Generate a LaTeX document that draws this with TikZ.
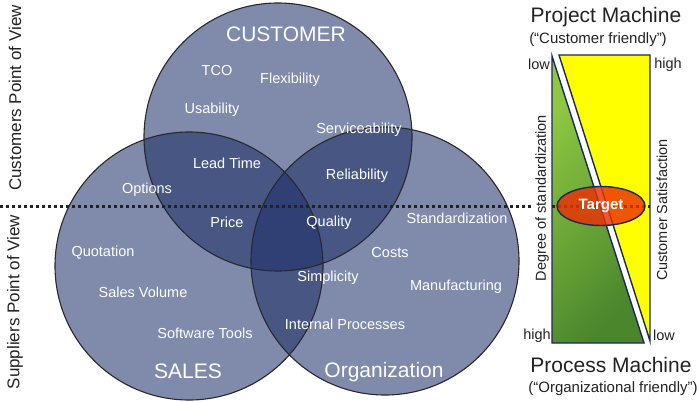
\documentclass[tikz,border=0pt]{standalone}
\usepackage{fontspec}
\setmainfont{Liberation Sans}
\usetikzlibrary{positioning,shapes.geometric}
\definecolor{vennblue}{RGB}{28,46,103}
\definecolor{ringgray}{RGB}{40,40,44}
\definecolor{boxnavy}{RGB}{28,40,92}
\definecolor{lightgreen}{RGB}{142,200,66}
\definecolor{darkgreen}{RGB}{74,134,44}
\definecolor{signyellow}{RGB}{255,255,0}
\definecolor{targetred}{RGB}{236,48,4}
\definecolor{textgray}{RGB}{34,34,34}
\tikzset{
	venn/.style={circle, minimum size=268pt, inner sep=0pt, fill=vennblue, fill opacity=0.56},
	ring/.style={circle, minimum size=268pt, inner sep=0pt, draw=ringgray, line width=1.1pt},
	item/.style={text=white, inner sep=0pt, font=\fontsize{14.5}{17}\selectfont},
	setname/.style={text=white, inner sep=0pt, font=\fontsize{21}{24}\selectfont},
	view/.style={rotate=90, inner sep=0pt, text=textgray, font=\fontsize{17}{20}\selectfont},
	axislabel/.style={rotate=90, inner sep=1pt, text=textgray, font=\fontsize{14.5}{17}\selectfont},
	endlabel/.style={inner sep=0pt, text=textgray, font=\fontsize{14.5}{17}\selectfont},
	title/.style={inner sep=0pt, text=textgray, font=\fontsize{21}{24}\selectfont},
	subtitle/.style={inner sep=0pt, text=textgray, font=\fontsize{15}{18}\selectfont},
	dotline/.style={textgray, line width=3pt, dash pattern=on 3pt off 3pt}
}
\begin{document}
\begin{tikzpicture}[x=1pt,y=-1pt]
	\useasboundingbox (0,0) rectangle (700,401);
	
	% venn circles
	\node[venn] (customer) at (278,137) {};
	\node[venn] (sales) at (189,266) {};
	\node[venn] (organization) at (385,261) {};
	\foreach \c in {customer,sales,organization}
		\node[ring] (\c-ring) at (\c) {};
	
	% set names
	\node[setname] (customername) at (286,34) {CUSTOMER};
	\node[setname] (salesname) at (188,371) {SALES};
	\node[setname] (orgname) at (384,372) {Organization};
	
	% items
	\node[item] (tco) at (217,71) {TCO};
	\node[item] (flexibility) at (290,80) {Flexibility};
	\node[item] (usability) at (212,110) {Usability};
	\node[item] (serviceability) at (359,130) {Serviceability};
	\node[item] (leadtime) at (227,163) {Lead Time};
	\node[item] (reliability) at (357,176) {Reliability};
	\node[item] (options) at (147,190) {Options};
	\node[item] (price) at (227,222) {Price};
	\node[item] (quality) at (329,223) {Quality};
	\node[item] (standardization) at (457,218) {Standardization};
	\node[item] (costs) at (390,253) {Costs};
	\node[item] (quotation) at (103,253) {Quotation};
	\node[item] (simplicity) at (328,278) {Simplicity};
	\node[item] (manufacturing) at (456,287) {Manufacturing};
	\node[item] (salesvolume) at (143,292) {Sales Volume};
	\node[item] (processes) at (345,324) {Internal Processes};
	\node[item] (software) at (205,333) {Software Tools};
	
	% points of view
	\node[view] (customerview) at (15,98) {Customers Point of View};
	\node[view] (supplierview) at (15,302) {Suppliers Point of View};
	
	% machine scale
	\shade[top color=lightgreen, bottom color=darkgreen, shading angle=45, draw=boxnavy, line width=1.4pt]
		(552,56) -- (552,343) -- (644,343) -- cycle;
	\filldraw[fill=signyellow, draw=boxnavy, line width=1.4pt]
		(559,55) -- (650,55) -- (650,341) -- cycle;
	
	% separating line
	\coordinate (lineleft) at (0,206);
	\coordinate (lineright) at (650,206);
	\draw[dotline] (lineleft) -- (lineright);
	
	\node[axislabel, fill=white] (degree) at (542,198) {Degree of standardization};
	\node[axislabel] (satisfaction) at (662,210) {Customer Satisfaction};
	\node[ellipse, minimum width=88pt, minimum height=39pt, inner sep=0pt, fill=targetred, fill opacity=0.82,
		draw=boxnavy, line width=1.4pt, text opacity=1, text=white, font=\fontsize{15}{18}\selectfont\bfseries]
		(target) at (601,206) {Target};
	
	\node[endlabel] (lowleft) at (539,64) {low};
	\node[endlabel] (highright) at (668,65) {high};
	\node[endlabel] (highleft) at (537,336) {high};
	\node[endlabel] (lowright) at (664,335) {low};
	
	\node[title] (project) at (606,17) {Project Machine};
	\node[subtitle] (projectnote) at (598,40) {(“Customer friendly”)};
	\node[title] (process) at (611,365) {Process Machine};
	\node[subtitle] (processnote) at (613,389) {(“Organizational friendly”)};
\end{tikzpicture}
\end{document}
